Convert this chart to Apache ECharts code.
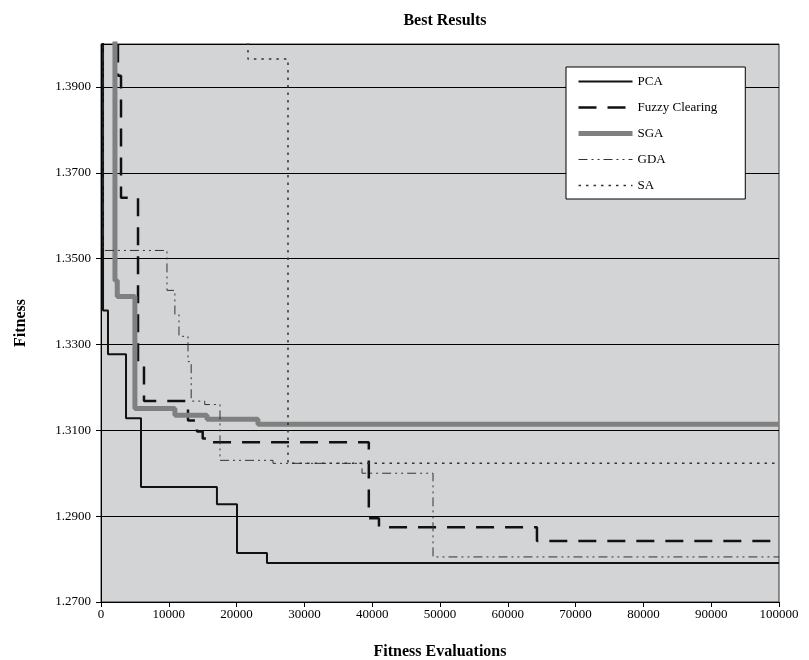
<!DOCTYPE html>
<html>
<head>
<meta charset="utf-8">
<script src="https://cdn.jsdelivr.net/npm/echarts@6/dist/echarts.min.js"></script>
<style>
  html, body { margin: 0; padding: 0; background: #fff; }
  #chart { width: 809px; height: 660px; }
</style>
</head>
<body>
<div id="chart"></div>
<script>
// change points of each run (value holds from x until the next x)
const pcaX = [0, 300, 1030, 3690, 5900, 17100, 20060, 24480, 100000]
const pcaY = [1.45, 1.3379, 1.3277, 1.3128, 1.2968, 1.2928, 1.2814, 1.2791, 1.2791]

const fuzzyX = [0, 2500, 2950, 5460, 6340, 12830, 14160, 15000, 16100, 39500, 41000, 64300, 100000]
const fuzzyY = [1.45, 1.3926, 1.3642, 1.3251, 1.3168, 1.3123, 1.3097, 1.3081, 1.3072, 1.2895, 1.2874, 1.2842, 1.2842]

const sgaX = [0, 2060, 2400, 5000, 10900, 15630, 23150, 100000]
const sgaY = [1.45, 1.3449, 1.3412, 1.3151, 1.3135, 1.3126, 1.3114, 1.3114]

const gdaX = [0, 300, 9730, 10900, 11500, 12830, 13300, 15300, 17550, 25370, 38500, 48970, 100000]
const gdaY = [1.45, 1.3519, 1.3426, 1.3370, 1.3319, 1.3260, 1.3168, 1.3160, 1.3030, 1.3023, 1.3000, 1.2805, 1.2805]

const saX = [0, 21680, 27580, 100000]
const saY = [1.45, 1.3965, 1.3023, 1.3023]

const pairs = (xs, ys) => xs.map((x, i) => [x, ys[i]])

const chart = echarts.init(document.getElementById('chart'))
const font = 'Liberation Serif'

const mkSeries = (name, xs, ys, lineStyle) => ({
  name,
  type: 'line',
  step: 'end',
  symbol: 'none',
  clip: true,
  data: pairs(xs, ys),
  lineStyle,
  itemStyle: { color: lineStyle.color }
})

const option = {
  animation: false,
  textStyle: { fontFamily: font },
  title: {
    text: 'Best Results',
    left: 440,
    textAlign: 'center',
    top: 8,
    textStyle: { fontFamily: font, fontSize: 16, fontWeight: 'bold', color: '#000' }
  },
  legend: {
    orient: 'vertical',
    left: 566,
    top: 67,
    backgroundColor: '#fff',
    borderColor: '#000',
    borderWidth: 1,
    borderRadius: 0,
    padding: [8, 28, 7, 10],
    itemWidth: 54,
    itemHeight: 14,
    itemGap: 13,
    itemStyle: { opacity: 0 },
    lineStyle: { width: 'inherit' },
    textStyle: { fontFamily: font, fontSize: 13, color: '#000' },
    data: ['PCA', 'Fuzzy Clearing', 'SGA', 'GDA', 'SA']
  },
  grid: {
    left: 101,
    right: 30,
    top: 44,
    bottom: 58,
    outerBoundsMode: 'none',
    show: true,
    backgroundColor: '#d3d4d6',
    borderColor: '#333',
    borderWidth: 1
  },
  xAxis: {
    type: 'value',
    min: 0,
    max: 100000,
    interval: 10000,
    name: 'Fitness Evaluations',
    nameLocation: 'middle',
    nameGap: 42,
    nameTextStyle: { fontFamily: font, fontSize: 16, fontWeight: 'bold', color: '#000' },
    axisLine: { show: true, lineStyle: { color: '#000' } },
    axisTick: { show: true, inside: false, length: 5, lineStyle: { color: '#000' } },
    axisLabel: { fontFamily: font, fontSize: 13, color: '#000', margin: 6, formatter: v => String(v) },
    splitLine: { show: false }
  },
  yAxis: {
    type: 'value',
    min: 1.27,
    max: 1.40,
    interval: 0.02,
    name: 'Fitness',
    nameLocation: 'middle',
    nameGap: 72,
    nameTextStyle: { fontFamily: font, fontSize: 16, fontWeight: 'bold', color: '#000' },
    axisLine: { show: true, lineStyle: { color: '#000' } },
    axisTick: { show: true, inside: false, length: 5, lineStyle: { color: '#000' } },
    axisLabel: {
      fontFamily: font, fontSize: 13, color: '#000', margin: 10,
      showMaxLabel: false,
      formatter: v => v.toFixed(4)
    },
    splitLine: { show: true, lineStyle: { color: '#000', width: 1 } }
  },
  series: [
    mkSeries('PCA', pcaX, pcaY, { color: '#111', width: 2, type: 'solid' }),
    mkSeries('Fuzzy Clearing', fuzzyX, fuzzyY, { color: '#111', width: 2.5, type: [18, 11] }),
    mkSeries('SGA', sgaX, sgaY, { color: '#808080', width: 5, type: 'solid' }),
    mkSeries('GDA', gdaX, gdaY, { color: '#333', width: 1, type: [9, 4, 2, 4, 2, 4] }),
    mkSeries('SA', saX, saY, { color: '#333', width: 1.5, type: [2.5, 5] })
  ]
}

chart.setOption(option)
</script>
</body>
</html>
